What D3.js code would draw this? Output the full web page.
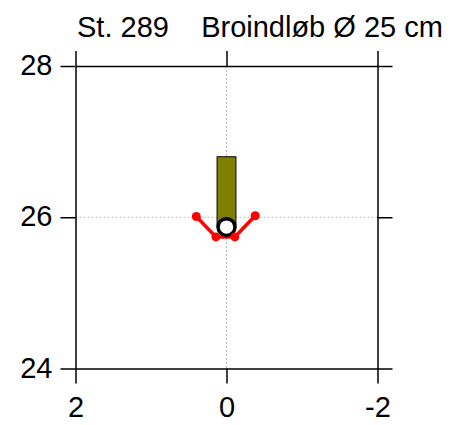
<!DOCTYPE html>
<html><head><meta charset="utf-8">
<script src="https://cdn.jsdelivr.net/npm/d3@7"></script>
<style>body{margin:0;background:#fff;} text{font-family:"Liberation Sans",Arial,sans-serif;}</style>
</head><body>
<svg id="c" width="451" height="425"></svg>
<script>
const titleText = "St. 289    Broindløb Ø 25 cm";
const xTicks = [2, 0, -2];
const yTicks = [24, 26, 28];
const xDomain = [2, -2];
const yDomain = [24, 28];
// pipe (culvert) diameter in m, centre position
const pipeDiameter = 0.25;
const pipeCenter = [0, 25.87];
// olive bar: top level
const barTop = 26.8;
// red profile line
const profileX = [0.40, 0.14, -0.11, -0.38];
const profileY = [26.01, 25.74, 25.74, 26.02];

const svg = d3.select("#c");
const x = d3.scaleLinear().domain(xDomain).range([75.5, 377.5]);
const y = d3.scaleLinear().domain(yDomain).range([368.5, 66]);
const tick = 15;

// grid
const g = svg.append("g");
g.append("line").attr("x1", x(0)).attr("x2", x(0)).attr("y1", y(28)).attr("y2", y(24))
  .attr("stroke", "#bbb").attr("stroke-width", 1).attr("stroke-dasharray", "2,2");
g.append("line").attr("x1", x(2)).attr("x2", x(-2)).attr("y1", y(26)).attr("y2", y(26))
  .attr("stroke", "#bbb").attr("stroke-width", 1).attr("stroke-dasharray", "2,2");

function styleAxis(sel){
  sel.selectAll("path.domain").attr("stroke","#000").attr("stroke-width",1.5);
  sel.selectAll(".tick line").attr("stroke","#000").attr("stroke-width",1.5);
  sel.selectAll(".tick text").attr("font-size",29).attr("fill","#000")
     .attr("font-family","Liberation Sans, Arial, sans-serif");
}
const ax = [
  svg.append("g").attr("transform",`translate(0,${y(24)})`).call(d3.axisBottom(x).tickValues(xTicks).tickSizeInner(tick).tickSizeOuter(0).tickPadding(13).tickFormat(d3.format("d"))),
  svg.append("g").attr("transform",`translate(0,${y(28)})`).call(d3.axisTop(x).tickValues(xTicks).tickSizeInner(tick).tickSizeOuter(0).tickFormat("")),
  svg.append("g").attr("transform",`translate(${x(2)},0)`).call(d3.axisLeft(y).tickValues(yTicks).tickSizeInner(tick).tickSizeOuter(0).tickPadding(8).tickFormat(d3.format("d"))),
  svg.append("g").attr("transform",`translate(${x(-2)},0)`).call(d3.axisRight(y).tickValues(yTicks).tickSizeInner(tick).tickSizeOuter(0).tickFormat(""))
];
ax.forEach(styleAxis);
ax[0].selectAll(".tick text").text(d => d3.format("d")(d).replace("−","-"));
ax[2].selectAll(".tick text").attr("dy","0.30em");

// bar
const halfW = pipeDiameter / 2;
svg.append("rect")
  .attr("x", x(halfW)).attr("width", x(-halfW) - x(halfW))
  .attr("y", y(barTop)).attr("height", y(pipeCenter[1]) - y(barTop))
  .attr("fill", "#808000").attr("stroke", "#000").attr("stroke-width", 1);

// profile line
const pts = profileX.map((v,i)=>[v, profileY[i]]);
svg.append("path").datum(pts)
  .attr("d", d3.line().x(d=>x(d[0])).y(d=>y(d[1])))
  .attr("fill","none").attr("stroke","#f00").attr("stroke-width",3.5);

// pipe circle
const r = y(pipeCenter[1] - halfW) - y(pipeCenter[1]);
svg.append("circle").attr("cx", x(pipeCenter[0])).attr("cy", y(pipeCenter[1])).attr("r", r - 1)
  .attr("fill","#fff").attr("stroke","#000").attr("stroke-width",3.5);

svg.selectAll("circle.pt").data(pts).enter().append("circle").attr("class","pt")
  .attr("cx", d=>x(d[0])).attr("cy", d=>y(d[1])).attr("r", 4.5).attr("fill","#f00");

svg.append("text").attr("x", 77).attr("y", 37).attr("font-size", 29)
  .attr("xml:space","preserve").style("white-space","pre").text(titleText);
</script>
</body></html>
